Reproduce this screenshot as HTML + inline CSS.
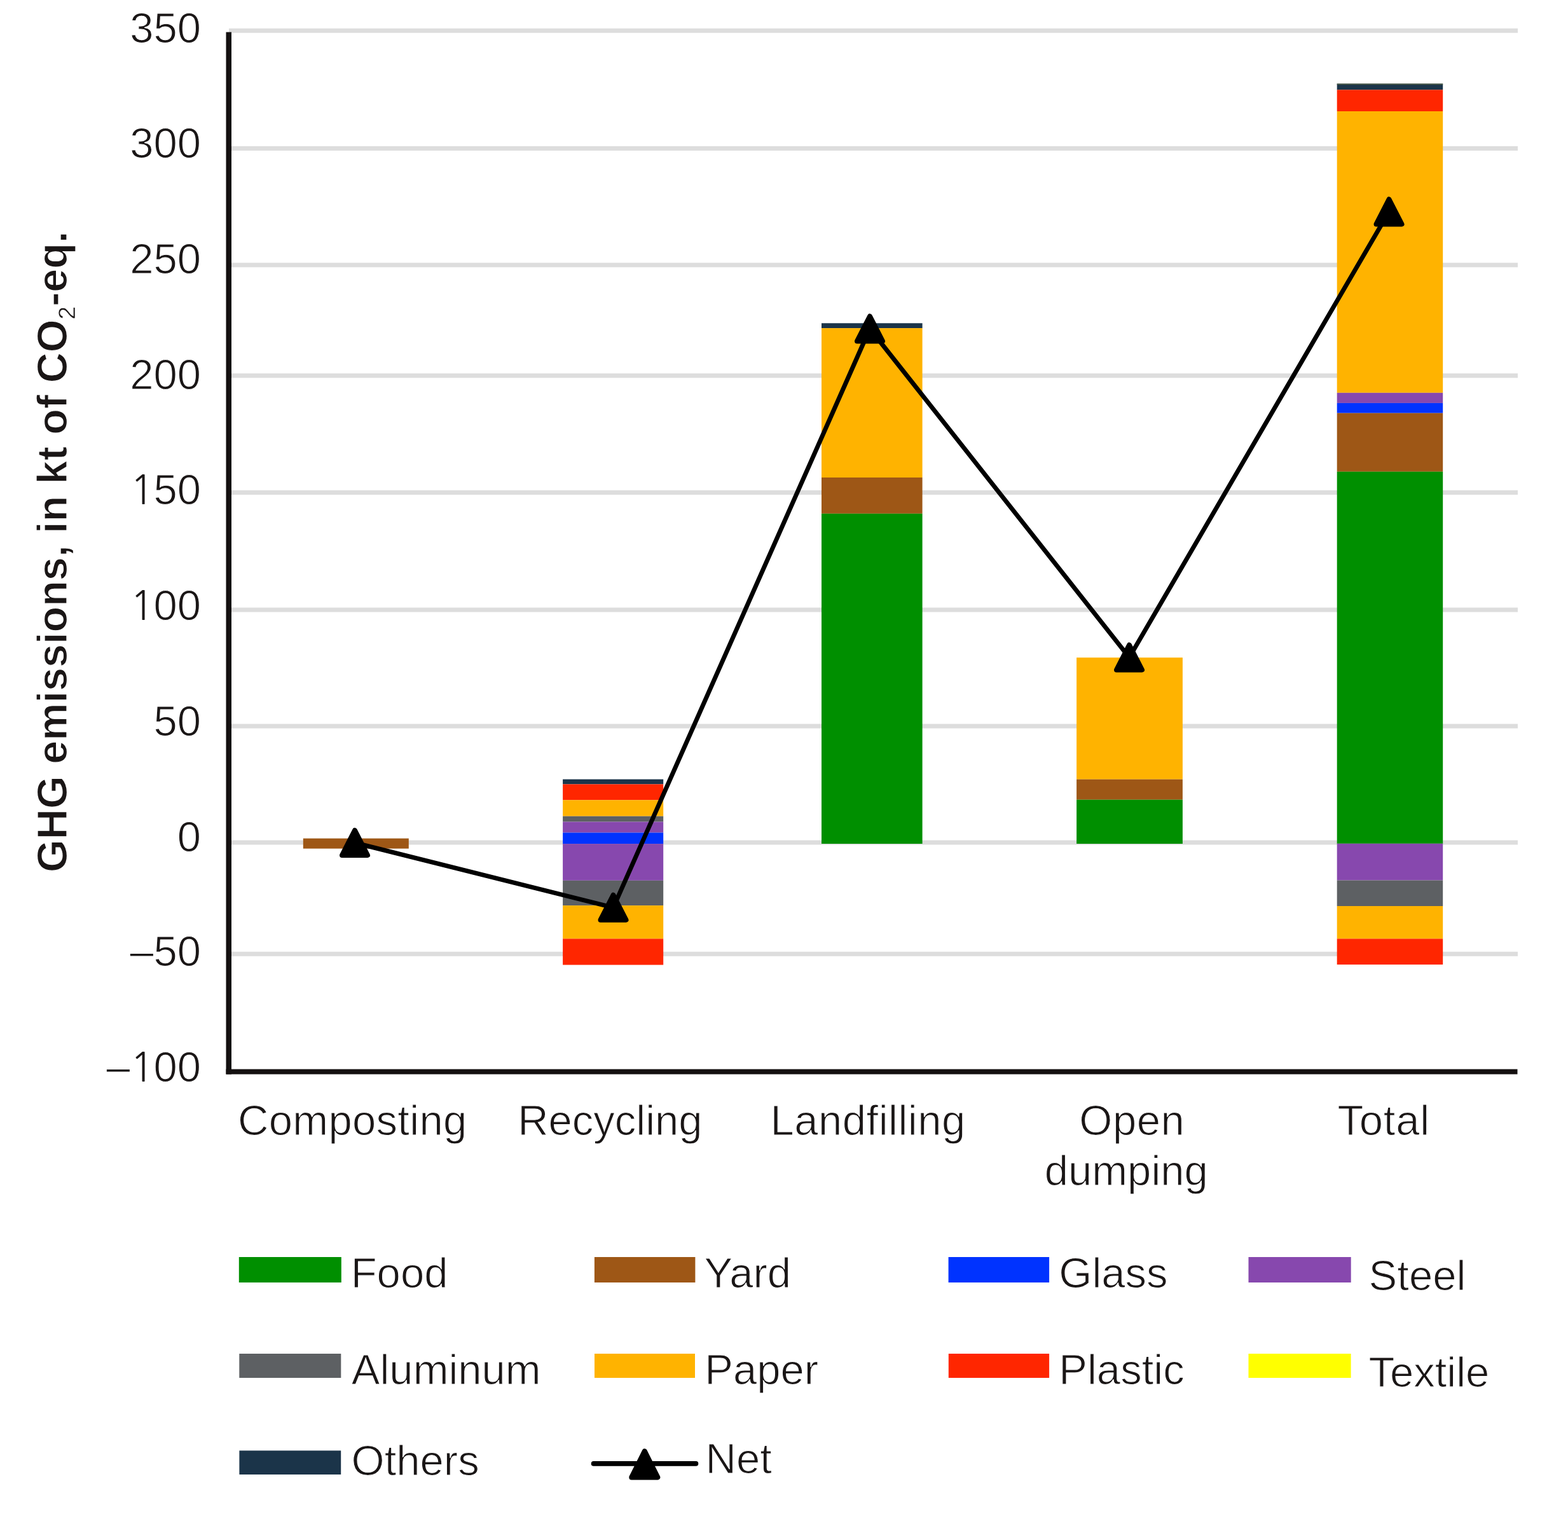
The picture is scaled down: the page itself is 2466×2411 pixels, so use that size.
<!DOCTYPE html>
<html><head><meta charset="utf-8"><title>GHG emissions chart</title>
<style>html,body{margin:0;padding:0;background:#fff;}svg{display:block;}</style>
</head><body>
<svg width="2466" height="2411" viewBox="0 0 2466 2411">
<rect width="2466" height="2411" fill="#ffffff"/>
<rect x="360" y="44.7" width="2027" height="7" fill="#dddddd"/>
<rect x="360" y="229.9" width="2027" height="7" fill="#dddddd"/>
<rect x="360" y="413.3" width="2027" height="7" fill="#dddddd"/>
<rect x="360" y="587.3" width="2027" height="7" fill="#dddddd"/>
<rect x="360" y="771.1" width="2027" height="7" fill="#dddddd"/>
<rect x="360" y="955.6" width="2027" height="7" fill="#dddddd"/>
<rect x="360" y="1138.5" width="2027" height="7" fill="#dddddd"/>
<rect x="360" y="1321.5" width="2027" height="7" fill="#dddddd"/>
<rect x="360" y="1496.8" width="2027" height="7" fill="#dddddd"/>
<rect x="476.8" y="1318.6" width="166.0" height="16.0" fill="#9e5716"/>
<rect x="885.1" y="1225.6" width="158.1" height="7.8" fill="#1b3449"/>
<rect x="885.1" y="1233.4" width="158.1" height="24.9" fill="#ff2600"/>
<rect x="885.1" y="1258.3" width="158.1" height="25.4" fill="#ffb300"/>
<rect x="885.1" y="1283.7" width="158.1" height="8.8" fill="#5d6063"/>
<rect x="885.1" y="1292.5" width="158.1" height="17.0" fill="#8748ae"/>
<rect x="885.1" y="1309.5" width="158.1" height="17.6" fill="#0033ff"/>
<rect x="885.1" y="1327.1" width="158.1" height="57.7" fill="#8748ae"/>
<rect x="885.1" y="1384.8" width="158.1" height="39.3" fill="#5d6063"/>
<rect x="885.1" y="1424.1" width="158.1" height="52.3" fill="#ffb300"/>
<rect x="885.1" y="1476.4" width="158.1" height="41.1" fill="#ff2600"/>
<rect x="1292.0" y="508.3" width="158.6" height="7.8" fill="#1b3449"/>
<rect x="1292.0" y="516.1" width="158.6" height="234.9" fill="#ffb300"/>
<rect x="1292.0" y="751.0" width="158.6" height="56.8" fill="#9e5716"/>
<rect x="1292.0" y="807.8" width="158.6" height="519.2" fill="#008f00"/>
<rect x="1693.1" y="1034.2" width="166.8" height="191.5" fill="#ffb300"/>
<rect x="1693.1" y="1225.7" width="166.8" height="32.0" fill="#9e5716"/>
<rect x="1693.1" y="1257.7" width="166.8" height="69.3" fill="#008f00"/>
<rect x="2102.7" y="131.6" width="166.5" height="9.7" fill="#1b3449"/>
<rect x="2102.7" y="131.6" width="166.5" height="1.6" fill="#4b5a44"/>
<rect x="2102.7" y="141.3" width="166.5" height="33.7" fill="#ff2600"/>
<rect x="2102.7" y="175.0" width="166.5" height="442.8" fill="#ffb300"/>
<rect x="2102.7" y="617.8" width="166.5" height="16.1" fill="#8748ae"/>
<rect x="2102.7" y="633.9" width="166.5" height="15.8" fill="#0033ff"/>
<rect x="2102.7" y="649.7" width="166.5" height="92.1" fill="#9e5716"/>
<rect x="2102.7" y="741.8" width="166.5" height="585.0" fill="#008f00"/>
<rect x="2102.7" y="1326.8" width="166.5" height="57.7" fill="#8748ae"/>
<rect x="2102.7" y="1384.5" width="166.5" height="40.5" fill="#5d6063"/>
<rect x="2102.7" y="1425.0" width="166.5" height="51.4" fill="#ffb300"/>
<rect x="2102.7" y="1476.4" width="166.5" height="40.6" fill="#ff2600"/>
<rect x="355.5" y="50.5" width="8.5" height="1639" fill="#141010"/>
<rect x="355.5" y="1681.5" width="2031" height="8" fill="#141010"/>
<polyline points="558,1325.5 964.5,1427.3 1368,517 1776,1034 2184.5,333" fill="none" stroke="#000" stroke-width="7" stroke-linejoin="round"/>
<path d="M558,1306.0 L578.0,1345.0 L538.0,1345.0 Z" fill="#000" stroke="#000" stroke-width="8" stroke-linejoin="round"/>
<path d="M964.5,1407.8 L984.5,1446.8 L944.5,1446.8 Z" fill="#000" stroke="#000" stroke-width="8" stroke-linejoin="round"/>
<path d="M1368,497.5 L1388.0,536.5 L1348.0,536.5 Z" fill="#000" stroke="#000" stroke-width="8" stroke-linejoin="round"/>
<path d="M1776,1014.5 L1796.0,1053.5 L1756.0,1053.5 Z" fill="#000" stroke="#000" stroke-width="8" stroke-linejoin="round"/>
<path d="M2184.5,313.5 L2204.5,352.5 L2164.5,352.5 Z" fill="#000" stroke="#000" stroke-width="8" stroke-linejoin="round"/>
<g font-family="Liberation Sans, Arial, sans-serif" font-size="67" fill="#1a1616" stroke="#fff" stroke-width="1.1" text-anchor="end">
<text x="316" y="66.5">350</text>
<text x="316" y="247.5">300</text>
<text x="316" y="430.3">250</text>
<text x="316" y="611.5">200</text>
<text x="316" y="792.7"><tspan font-family="NanumGothic, Liberation Sans, sans-serif" font-size="63" stroke-width="0.2" letter-spacing="-1.2">1</tspan>50</text>
<text x="316" y="975.4"><tspan font-family="NanumGothic, Liberation Sans, sans-serif" font-size="63" stroke-width="0.2" letter-spacing="-1.2">1</tspan>00</text>
<text x="316" y="1156.6">50</text>
<text x="316" y="1338.6">0</text>
<text x="316" y="1519.4">–50</text>
<text x="316" y="1701.3">–<tspan font-family="NanumGothic, Liberation Sans, sans-serif" font-size="63" stroke-width="0.2" letter-spacing="-1.2">1</tspan>00</text>
</g>
<text transform="translate(104.6,1372) rotate(-90)" font-family="Liberation Sans, Arial, sans-serif" font-size="66.6" font-weight="bold" fill="#1a1616" stroke="#fff" stroke-width="1.2">GHG emissions, in kt of CO<tspan font-weight="normal" font-size="37" dy="13.7" stroke-width="0.5">2</tspan><tspan dy="-13.7">-eq.</tspan></text>
<g font-family="Liberation Sans, Arial, sans-serif" font-size="67" fill="#1a1616" stroke="#fff" stroke-width="1.1" text-anchor="middle">
<text x="554.35" y="1785" letter-spacing="0.3">Composting</text>
<text x="959.4" y="1785">Recycling</text>
<text x="1365.15" y="1785" letter-spacing="0.5">Landfilling</text>
<text x="1780.25" y="1785" letter-spacing="0.5">Open</text>
<text x="2176.2000000000003" y="1785" letter-spacing="0.8">Total</text>
<text x="1771.3" y="1863.5">dumping</text>
</g>
<g font-family="Liberation Sans, Arial, sans-serif" font-size="67" fill="#1a1616" stroke="#fff" stroke-width="1.1">
<rect x="375.8" y="1977" width="161" height="40" fill="#008f00" stroke="none"/>
<text x="551.7" y="2025">Food</text>
<rect x="934.9" y="1977" width="158.5" height="40" fill="#9e5716" stroke="none"/>
<text x="1107.5" y="2024.7">Yard</text>
<rect x="1491.6" y="1977" width="158.5" height="40" fill="#0033ff" stroke="none"/>
<text x="1665.3" y="2024.7">Glass</text>
<rect x="1963.5" y="1977" width="161.2" height="40" fill="#8748ae" stroke="none"/>
<text x="2152.6" y="2029.2">Steel</text>
<rect x="376.3" y="2129" width="160" height="38" fill="#5d6063" stroke="none"/>
<text x="552.8" y="2177.1">Aluminum</text>
<rect x="935" y="2129" width="158" height="38" fill="#ffb300" stroke="none"/>
<text x="1108.2" y="2177.3">Paper</text>
<rect x="1491.8" y="2129" width="158.3" height="38" fill="#ff2600" stroke="none"/>
<text x="1665.3" y="2177.4">Plastic</text>
<rect x="1963.5" y="2129" width="161.1" height="38" fill="#ffff00" stroke="none"/>
<text x="2152.4" y="2181">Textile</text>
<rect x="376.4" y="2281.4" width="159.8" height="37.6" fill="#1b3449" stroke="none"/>
<text x="552.6" y="2319.5">Others</text>
<text x="1109.5" y="2316.7">Net</text>
</g>
<line x1="933.5" y1="2301.9" x2="1094.5" y2="2301.9" stroke="#000" stroke-width="7.6" stroke-linecap="round"/>
<path d="M1013.8,2282.4 L1034.3,2323.4 L993.3,2323.4 Z" fill="#000" stroke="#000" stroke-width="8" stroke-linejoin="round"/>
</svg>
</body></html>
